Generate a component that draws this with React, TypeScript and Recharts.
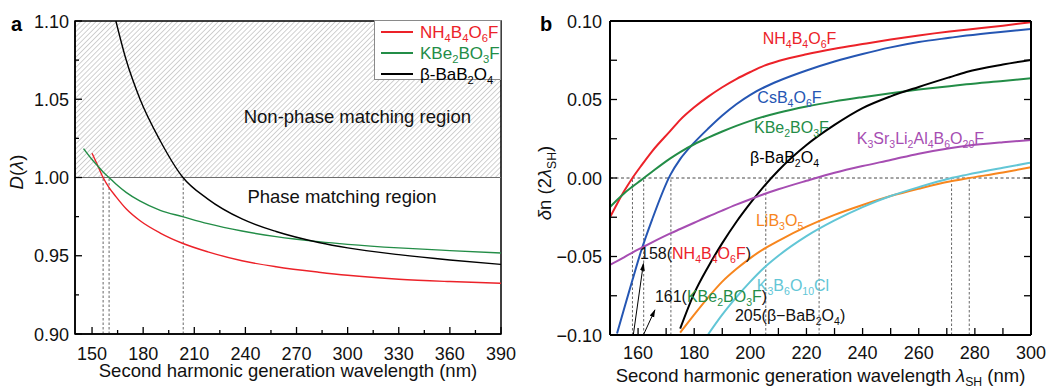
import React from "react";
import {
  LineChart,
  Line,
  XAxis,
  YAxis,
  ReferenceArea,
  ReferenceLine,
  ReferenceDot,
  Legend,
} from "recharts";

const FONT = '"Liberation Sans", Arial, Helvetica, sans-serif';

const RED = "#ec2229";
const GREEN = "#238d47";
const BLUE = "#2556b3";
const PURPLE = "#a64db2";
const ORANGE = "#f7861e";
const CYAN = "#62c6d6";
const BLACK = "#000";

// ---- panel a : D(lambda) ----
const wlA = [145, 150, 153, 156.5, 160, 164, 170, 178, 190, 203, 218, 238, 258, 283, 300, 330, 360, 390];
const dNH = [null, 1.0155, 1.0085, 1.0, 0.9935, 0.9878, 0.98, 0.9725, 0.9645, 0.958, 0.9525, 0.9468, 0.943, 0.9395, 0.9375, 0.935, 0.9335, 0.9324];
const dKB = [1.0185, 1.0115, 1.0078, 1.0035, 1.0, 0.9958, 0.9905, 0.985, 0.979, 0.975, 0.9705, 0.9658, 0.9622, 0.959, 0.9573, 0.955, 0.9533, 0.9518];
const dBBO = [null, null, null, null, null, 1.1, 1.0752, 1.0505, 1.0235, 1.0005, 0.9862, 0.9735, 0.9655, 0.9585, 0.955, 0.9507, 0.9473, 0.9445];
const pmA = [156.5, 160, 203.5];
const xTicksA = [150, 165, 180, 195, 210, 225, 240, 255, 270, 285, 300, 315, 330, 345, 360, 375, 390];
const xLabelsA = [150, 180, 210, 240, 270, 300, 330, 360, 390];
const yTicksA = [0.9, 0.925, 0.95, 0.975, 1.0, 1.025, 1.05, 1.075, 1.1];
const yLabelsA = [0.9, 0.95, 1.0, 1.05, 1.1];

// ---- panel b : delta n ----
const wlB = [150, 152.5, 155, 158, 161, 165, 171.5, 175, 180, 185, 190, 195, 200, 205, 210, 220, 230, 240, 250, 260, 271, 277, 290, 300];
const nNH = [-0.025, -0.0165, -0.0085, 0, 0.0075, 0.017, 0.03, 0.037, 0.045, 0.0518, 0.0578, 0.063, 0.0675, 0.0716, 0.0745, 0.0788, 0.0823, 0.0853, 0.0882, 0.0908, 0.0933, 0.0945, 0.097, 0.0992];
const nCs = [null, -0.099, -0.0835, -0.065, -0.047, -0.0265, 0.002, 0.012, 0.0225, 0.0315, 0.0398, 0.047, 0.053, 0.0578, 0.0618, 0.0685, 0.0742, 0.079, 0.0832, 0.0866, 0.0893, 0.0907, 0.0932, 0.0949];
const nKB = [-0.0185, -0.014, -0.0098, -0.0055, -0.0015, 0.004, 0.0125, 0.0165, 0.0215, 0.0257, 0.0296, 0.0332, 0.0364, 0.0392, 0.0416, 0.0456, 0.0488, 0.0515, 0.054, 0.0563, 0.0585, 0.0597, 0.0618, 0.0635];
const nBBO = [null, null, null, null, null, null, null, -0.096, -0.0735, -0.0565, -0.0415, -0.028, -0.016, -0.005, 0.0048, 0.021, 0.0338, 0.0445, 0.052, 0.058, 0.0642, 0.0675, 0.0723, 0.0752];
const nKSL = [-0.0554, -0.053, -0.0505, -0.0475, -0.0447, -0.041, -0.0353, -0.0325, -0.0285, -0.0245, -0.0207, -0.017, -0.0135, -0.0102, -0.0072, -0.0018, 0.0033, 0.0076, 0.0115, 0.0155, 0.019, 0.0205, 0.0228, 0.0242];
const nLBO = [null, null, null, null, null, null, null, -0.0985, -0.087, -0.076, -0.066, -0.058, -0.051, -0.045, -0.04, -0.031, -0.0235, -0.0172, -0.0115, -0.0068, -0.0022, -0.0003, 0.0035, 0.0068];
const nKBOC = [null, null, null, null, null, null, null, null, null, -0.0995, -0.087, -0.076, -0.066, -0.057, -0.0495, -0.037, -0.027, -0.0185, -0.0115, -0.0058, -0.0003, 0.002, 0.0065, 0.0098];
const pmB = [158, 162, 171.7, 205.5, 224.5, 271.7, 278];
const xTicksB = [150, 160, 170, 180, 190, 200, 210, 220, 230, 240, 250, 260, 270, 280, 290, 300];
const xLabelsB = [160, 180, 200, 220, 240, 260, 280, 300];
const yTicksB = [-0.1, -0.075, -0.05, -0.025, 0, 0.025, 0.05, 0.075, 0.1];
const yLabelsB = [-0.1, -0.05, 0, 0.05, 0.1];

const rowsA = wlA.map((x, i) => ({ x, nh: dNH[i], kb: dKB[i], bbo: dBBO[i] }));
const rowsB = wlB.map((x, i) => ({
  x, nh: nNH[i], cs: nCs[i], kb: nKB[i], bbo: nBBO[i], ksl: nKSL[i], lbo: nLBO[i], kboc: nKBOC[i],
}));

type Seg = { t: string; c?: string; i?: boolean; sub?: boolean };

// digits after a letter become subscripts
function rich(segs: Seg[], size: number) {
  const out: React.ReactNode[] = [];
  const d = size * 0.25;
  let shifted = false;
  let prev = "";
  let prevSub = false;
  let k = 0;
  for (const s of segs) {
    let run = "";
    let runSub = false;
    const flush = () => {
      if (!run) return;
      const dy = runSub === shifted ? 0 : runSub ? d : -d;
      shifted = runSub;
      out.push(
        <tspan key={k++} dy={dy || undefined} fill={s.c} fontStyle={s.i ? "italic" : undefined} fontSize={runSub ? size * 0.66 : size}>
          {run}
        </tspan>
      );
      run = "";
    };
    for (const ch of s.t) {
      const sub = !!s.sub || (/\d/.test(ch) && (/[A-Za-z]/.test(prev) || prevSub));
      if (sub !== runSub) {
        flush();
        runSub = sub;
      }
      run += ch;
      prev = ch;
      prevSub = sub;
    }
    flush();
  }
  return out;
}

const legendA = [
  { name: "NH4B4O6F", color: RED },
  { name: "KBe2BO3F", color: GREEN },
  { name: "β-BaB2O4", color: BLACK },
];

const notesB: { x: number; y: number; segs: Seg[] }[] = [
  { x: 204.4, y: 0.0854, segs: [{ t: "NH4B4O6F", c: RED }] },
  { x: 202.5, y: 0.0478, segs: [{ t: "CsB4O6F", c: BLUE }] },
  { x: 201.3, y: 0.0287, segs: [{ t: "KBe2BO3F", c: GREEN }] },
  { x: 199.9, y: 0.0096, segs: [{ t: "β-BaB2O4", c: BLACK }] },
  { x: 237.9, y: 0.0217, segs: [{ t: "K3Sr3Li2Al4B6O20F", c: PURPLE }] },
  { x: 202.0, y: -0.0306, segs: [{ t: "LiB3O5", c: ORANGE }] },
  { x: 202.3, y: -0.072, segs: [{ t: "K3B6O10Cl", c: CYAN }] },
  { x: 160.7, y: -0.0516, segs: [{ t: "158(", c: "#111" }, { t: "NH4B4O6F", c: RED }, { t: ")", c: "#111" }] },
  { x: 166.0, y: -0.079, segs: [{ t: "161(", c: "#111" }, { t: "KBe2BO3F", c: GREEN }, { t: ")", c: "#111" }] },
  { x: 194.5, y: -0.0911, segs: [{ t: "205(β−BaB2O4)", c: "#111" }] },
];

const arrowsB = [
  { x1: 158.3, y1: -0.1, x2: 161.9, y2: -0.0545 },
  { x1: 161.9, y1: -0.1, x2: 166.0, y2: -0.084 },
];

const near = (arr: number[], v: number) => arr.some((a) => Math.abs(a - v) < 1e-6);

function Tick(props: any) {
  const { x, y, payload, side, labels, fmt, major = 7, minor = 4, gap = 6, below = 25 } = props;
  const v = payload.value;
  const isMajor = near(labels, v);
  const len = isMajor ? major : minor;
  const ts = { fontFamily: FONT, fontSize: 18, fill: "#111" };
  if (side === "bottom")
    return (
      <g>
        <line x1={x} y1={y} x2={x} y2={y - len} stroke="#000" strokeWidth={1.3} />
        {isMajor && (
          <text x={x} y={y + below} textAnchor="middle" {...ts}>
            {fmt(v)}
          </text>
        )}
      </g>
    );
  if (side === "top") return <line x1={x} y1={y} x2={x} y2={y + len} stroke="#000" strokeWidth={1.3} />;
  if (side === "right") return <line x1={x} y1={y} x2={x - len} y2={y} stroke="#000" strokeWidth={1.3} />;
  return (
    <g>
      <line x1={x} y1={y} x2={x + len} y2={y} stroke="#000" strokeWidth={1.3} />
      {isMajor && (
        <text x={x - gap} y={y + 6.5} textAnchor="end" {...ts}>
          {fmt(v)}
        </text>
      )}
    </g>
  );
}

const fmtInt = (v: number) => String(v);
const fmt2 = (v: number) => (v < 0 ? "\u2212" + Math.abs(v).toFixed(2) : Math.abs(v).toFixed(2));

function TitleX(props: any) {
  const { viewBox, segs, dy } = props;
  const cx = viewBox.x + viewBox.width / 2;
  return (
    <text x={cx} y={viewBox.y + dy} textAnchor="middle" fontFamily={FONT} fontSize={18.5} fill="#111">
      {rich(segs, 18.5)}
    </text>
  );
}

function TitleY(props: any) {
  const { viewBox, segs, bx, cy, panel, px } = props;
  const x = viewBox.x + bx;
  return (
    <g>
      <text x={viewBox.x + px} y={31} fontFamily={FONT} fontSize={20} fontWeight="bold" fill="#000">
        {panel}
      </text>
      <text x={x} y={cy} transform={`rotate(-90 ${x} ${cy})`} textAnchor="middle" fontFamily={FONT} fontSize={18.5} fill="#111">
        {rich(segs, 18.5)}
      </text>
    </g>
  );
}

function LegendA() {
  return (
    <div style={{ width: 127, height: 60, background: "#fff", border: "1px solid #8a8a8a", boxSizing: "border-box" }}>
      <svg width={125} height={58} style={{ display: "block", overflow: "visible" }}>
        {legendA.map((s, i) => {
          const yy = 11 + i * 21;
          return (
            <g key={s.name}>
              <line x1={6} x2={38} y1={yy} y2={yy} stroke={s.color} strokeWidth={2} />
              <text x={45} y={yy + 5.5} fontFamily={FONT} fontSize={17} fill={s.color}>
                {rich([{ t: s.name }], 17)}
              </text>
            </g>
          );
        })}
      </svg>
    </div>
  );
}

const textShape = (segs: Seg[], size: number, anchor: string) => (p: any) =>
  (
    <text x={p.cx} y={p.cy} textAnchor={anchor} fontFamily={FONT} fontSize={size} fill="#111">
      {rich(segs, size)}
    </text>
  );

function PanelA() {
  return (
    <LineChart width={520} height={388} data={rowsA} margin={{ top: 21, right: 19, left: 15, bottom: 24 }}>
      <ReferenceArea x1={140} x2={390} y1={1.0} y2={1.1} fill="url(#hatchA)" fillOpacity={1} stroke="none" />
      <ReferenceLine y={1.0} stroke="#6e6e6e" strokeWidth={1.2} />
      {pmA.map((x) => (
        <ReferenceLine key={x} segment={[{ x, y: 0.9 }, { x, y: 1.0 }]} stroke="#555" strokeWidth={0.9} strokeDasharray="2.5 2" />
      ))}
      <XAxis
        dataKey="x"
        type="number"
        domain={[140, 390]}
        allowDataOverflow
        ticks={xTicksA}
        interval={0}
        tickSize={0}
        tickMargin={0}
        tickLine={false}
        height={30}
        axisLine={{ stroke: "#000", strokeWidth: 1.5 }}
        tick={<Tick side="bottom" labels={xLabelsA} fmt={fmtInt} major={7} minor={4} below={25.5} />}
        label={<TitleX segs={[{ t: "Second harmonic generation wavelength (nm)" }]} dy={42.5} />}
      />
      <YAxis
        type="number"
        domain={[0.9, 1.1]}
        allowDataOverflow
        ticks={yTicksA}
        interval={0}
        tickSize={0}
        tickMargin={0}
        tickLine={false}
        width={60}
        axisLine={{ stroke: "#000", strokeWidth: 1.5 }}
        tick={<Tick side="left" labels={yLabelsA} fmt={fmt2} major={7} minor={4} gap={6} />}
        label={
          <TitleY
            segs={[{ t: "D", i: true }, { t: "(" }, { t: "λ", i: true }, { t: ")" }]}
            bx={8}
            cy={172}
            panel="a"
            px={-4}
          />
        }
      />
      <Line dataKey="nh" type="monotone" stroke={RED} strokeWidth={1.4} dot={false} isAnimationActive={false} />
      <Line dataKey="kb" type="monotone" stroke={GREEN} strokeWidth={1.4} dot={false} isAnimationActive={false} />
      <Line dataKey="bbo" type="monotone" stroke={BLACK} strokeWidth={1.4} dot={false} isAnimationActive={false} />
      <ReferenceDot x={305.7} y={1.0348} r={0} shape={textShape([{ t: "Non-phase matching region" }], 18.5, "middle")} />
      <ReferenceDot x={296.7} y={0.9837} r={0} shape={textShape([{ t: "Phase matching region" }], 18.5, "middle")} />
      <ReferenceArea x1={140} x2={390} y1={0.9} y2={1.1} fill="none" stroke="#000" strokeWidth={1.5} />
      <Legend
        layout="horizontal"
        verticalAlign="middle"
        align="center"
        content={() => <LegendA />}
        wrapperStyle={{ top: 20, left: 374, width: 127, height: 60 }}
      />
    </LineChart>
  );
}

function PanelB() {
  const lw = 2;
  return (
    <LineChart width={529} height={388} data={rowsB} margin={{ top: 15, right: 10, left: 30, bottom: 23 }}>
      <ReferenceLine y={0} stroke="#333" strokeWidth={0.9} strokeDasharray="3 2.5" />
      {pmB.map((x) => (
        <ReferenceLine key={x} segment={[{ x, y: -0.1 }, { x, y: 0 }]} stroke="#555" strokeWidth={0.9} strokeDasharray="2.5 2" />
      ))}
      <XAxis
        dataKey="x"
        type="number"
        domain={[150, 300]}
        allowDataOverflow
        ticks={xTicksB}
        interval={0}
        tickSize={0}
        tickMargin={0}
        tickLine={false}
        height={30}
        axisLine={{ stroke: "#000", strokeWidth: 2 }}
        tick={<Tick side="bottom" labels={xLabelsB} fmt={fmtInt} major={7} minor={7} below={23.5} />}
        label={
          <TitleX
            segs={[
              { t: "Second harmonic generation wavelength " },
              { t: "λ", i: true },
              { t: "SH", sub: true },
              { t: " (nm)" },
            ]}
            dy={46.5}
          />
        }
      />
      <XAxis
        xAxisId="top"
        orientation="top"
        type="number"
        domain={[150, 300]}
        allowDataOverflow
        ticks={xTicksB}
        interval={0}
        tickSize={0}
        tickMargin={0}
        tickLine={false}
        height={6}
        axisLine={{ stroke: "#000", strokeWidth: 2 }}
        tick={<Tick side="top" labels={xLabelsB} fmt={fmtInt} major={7} minor={7} />}
      />
      <YAxis
        type="number"
        domain={[-0.1, 0.1]}
        allowDataOverflow
        ticks={yTicksB}
        interval={0}
        tickSize={0}
        tickMargin={0}
        tickLine={false}
        width={60}
        axisLine={{ stroke: "#000", strokeWidth: 2 }}
        tick={<Tick side="left" labels={yLabelsB} fmt={fmt2} major={7} minor={7} gap={8} />}
        label={
          <TitleY
            segs={[{ t: "δ", i: true }, { t: "n (2" }, { t: "λ", i: true }, { t: "SH", sub: true }, { t: ")" }]}
            bx={1}
            cy={183}
            panel="b"
            px={-10}
          />
        }
      />
      <YAxis
        yAxisId="right"
        orientation="right"
        type="number"
        domain={[-0.1, 0.1]}
        allowDataOverflow
        ticks={yTicksB}
        interval={0}
        tickSize={0}
        tickMargin={0}
        tickLine={false}
        width={8}
        axisLine={{ stroke: "#000", strokeWidth: 2 }}
        tick={<Tick side="right" labels={yLabelsB} fmt={fmt2} major={7} minor={7} />}
      />
      <Line dataKey="nh" type="monotone" stroke={RED} strokeWidth={lw} dot={false} isAnimationActive={false} />
      <Line dataKey="cs" type="monotone" stroke={BLUE} strokeWidth={lw} dot={false} isAnimationActive={false} />
      <Line dataKey="kb" type="monotone" stroke={GREEN} strokeWidth={lw} dot={false} isAnimationActive={false} />
      <Line dataKey="bbo" type="monotone" stroke={BLACK} strokeWidth={lw} dot={false} isAnimationActive={false} />
      <Line dataKey="ksl" type="monotone" stroke={PURPLE} strokeWidth={lw} dot={false} isAnimationActive={false} />
      <Line dataKey="lbo" type="monotone" stroke={ORANGE} strokeWidth={lw} dot={false} isAnimationActive={false} />
      <Line dataKey="kboc" type="monotone" stroke={CYAN} strokeWidth={lw} dot={false} isAnimationActive={false} />
      {arrowsB.map((a, i) => (
        <ReferenceLine
          key={i}
          segment={[{ x: a.x1, y: a.y1 }, { x: a.x2, y: a.y2 }]}
          stroke="#000"
          shape={(p: any) => (
            <line x1={p.x1} y1={p.y1} x2={p.x2} y2={p.y2} stroke="#000" strokeWidth={1} markerEnd="url(#arrowB)" />
          )}
        />
      ))}
      {notesB.map((n, i) => (
        <ReferenceDot key={i} x={n.x} y={n.y} r={0} shape={textShape(n.segs, 16, "start")} />
      ))}
    </LineChart>
  );
}

export default function App() {
  return (
    <div style={{ position: "absolute", left: 0, top: 0, width: 1049, height: 388, background: "#fff", fontFamily: FONT, overflow: "hidden" }}>
      <svg width={0} height={0} style={{ position: "absolute" }}>
        <defs>
          <pattern id="hatchA" patternUnits="userSpaceOnUse" width={3.6} height={3.6} patternTransform="rotate(45)">
            <rect width={3.6} height={3.6} fill="#fff" />
            <line x1={0} y1={0} x2={0} y2={3.6} stroke="#a3a3a3" strokeWidth={1} />
          </pattern>
          <marker id="arrowB" viewBox="0 0 10 10" refX={9} refY={5} markerWidth={8} markerHeight={8} orient="auto" markerUnits="userSpaceOnUse">
            <path d="M0,2 L10,5 L0,8 z" fill="#000" />
          </marker>
        </defs>
      </svg>
      <div style={{ position: "absolute", left: 0, top: 0 }}>
        <PanelA />
      </div>
      <div style={{ position: "absolute", left: 520, top: 0 }}>
        <PanelB />
      </div>
    </div>
  );
}
